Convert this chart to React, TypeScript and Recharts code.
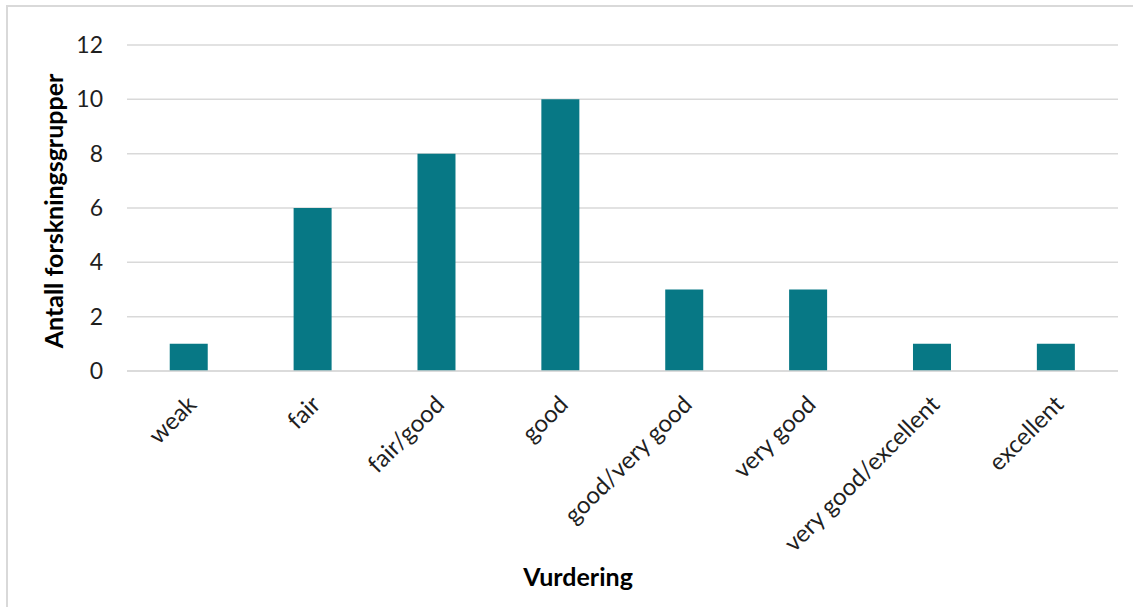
import React from "react";
import { BarChart, Bar, XAxis, YAxis, CartesianGrid } from "recharts";

const categories = ["weak", "fair", "fair/good", "good", "good/very good", "very good", "very good/excellent", "excellent"];
const counts = [1, 6, 8, 10, 3, 3, 1, 1];
const yTicks = [0, 2, 4, 6, 8, 10, 12];

const data = categories.map((c, i) => ({ name: c, value: counts[i] }));

const FONT = "Lato, 'Open Sans', sans-serif";

const XTick = (props: any) => {
  const { x, y, payload } = props;
  const ax = x + 9;
  const ay = y + 27;
  return (
    <text
      x={ax}
      y={ay}
      textAnchor="end"
      transform={`rotate(-45, ${ax}, ${ay})`}
      fontFamily={FONT}
      fontSize={24}
      fill="#1f1f1f"
    >
      {payload.value}
    </text>
  );
};

const YTitle = (props: any) => {
  const cx = 53;
  const cy = 211;
  return (
    <text
      x={cx}
      y={cy}
      textAnchor="middle"
      dominantBaseline="central"
      transform={`rotate(-90, ${cx}, ${cy})`}
      fontFamily={FONT}
      fontSize={25}
      fontWeight={700}
      fill="#000"
    >
      Antall forskningsgrupper
    </text>
  );
};

const XTitle = (props: any) => {
  return (
    <text x={578} y={586} textAnchor="middle" fontFamily={FONT} fontSize={25} fontWeight={700} fill="#000">
      Vurdering
    </text>
  );
};

export default function App() {
  return (
    <div style={{ position: "absolute", left: 0, top: 0, width: 1133, height: 607, background: "#fff", overflow: "hidden" }}>
      <div style={{ position: "absolute", left: 6, top: 5, width: 1150, height: 640, border: "2px solid #D9D9D9", boxSizing: "border-box" }} />
      <div style={{ position: "absolute", left: 0, top: 0 }}>
        <BarChart
          width={1133}
          height={607}
          data={data}
          margin={{ top: 45, right: 15, bottom: 0, left: 57 }}
          barCategoryGap="34.5%"
        >
          <CartesianGrid vertical={false} stroke="#D9D9D9" strokeWidth={1.5} />
          <XAxis
            dataKey="name"
            axisLine={{ stroke: "#D9D9D9", strokeWidth: 1.5 }}
            tickLine={false}
            interval={0}
            height={236}
            tick={<XTick />}
            label={<XTitle />}
          />
          <YAxis
            width={70}
            domain={[0, 12]}
            ticks={yTicks}
            axisLine={false}
            tickLine={false}
            tickMargin={18}
            tick={{ fontFamily: FONT, fontSize: 23, fill: "#1f1f1f" }}
            label={<YTitle />}
          />
          <Bar dataKey="value" fill="#077885" isAnimationActive={false} />
        </BarChart>
      </div>
    </div>
  );
}
